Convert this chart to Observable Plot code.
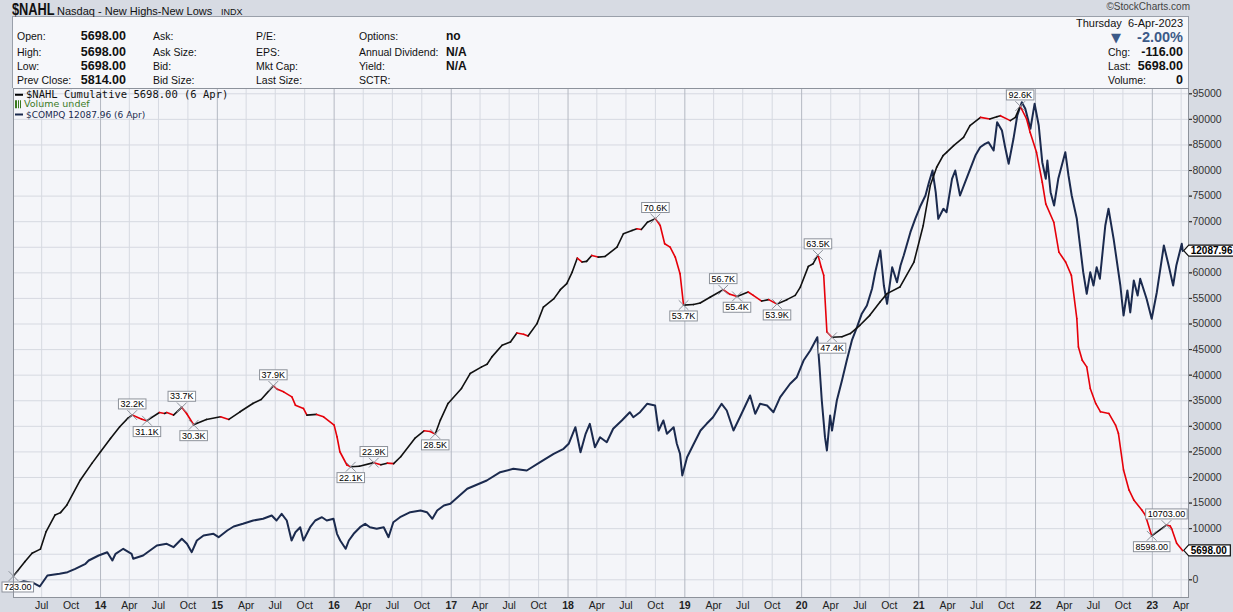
<!DOCTYPE html>
<html>
<head>
<meta charset="utf-8">
<script src="https://cdn.jsdelivr.net/npm/d3@7"></script>
<script src="https://cdn.jsdelivr.net/npm/@observablehq/plot@0.6"></script>
<style>
  html,body{margin:0;padding:0}
  body{width:1233px;height:612px;overflow:hidden;position:relative;background:#d7dbe3;font-family:"Liberation Sans",Arial,sans-serif;color:#111}
  .t{position:absolute;white-space:nowrap;line-height:1;transform:translateY(-50%)}
  .r{transform:translate(-100%,-50%)}
  .lbl{font-size:10.5px;color:#111}
  .val{font-size:12.5px;font-weight:bold;color:#111}
  #info{position:absolute;left:12px;top:16px;width:1177px;height:72px;background:#f6f7fa;border:1px solid #9aa0aa;border-bottom:none;box-sizing:border-box}
  #chart{position:absolute;left:0;top:87px}
  .leg{position:absolute;white-space:nowrap;line-height:1;transform:translateY(-50%)}
</style>
</head>
<body>
<div id="info"></div>
<div id="chart"></div>
<script>
// ---------------- data ----------------
const nahlDates = ["2013-04-04","2013-05-10","2013-06-01","2013-06-27","2013-07-15","2013-08-12","2013-08-29","2013-09-18","2013-10-30","2013-12-05",
"2014-01-01","2014-02-01","2014-03-02","2014-03-27","2014-04-10","2014-05-10","2014-05-26","2014-07-04","2014-07-20","2014-07-27","2014-08-17","2014-09-12","2014-09-27","2014-10-19","2014-10-30","2014-11-28",
"2015-01-11","2015-02-06","2015-03-13","2015-04-22","2015-05-18","2015-06-25","2015-07-06","2015-07-27","2015-08-22","2015-09-02","2015-09-27","2015-10-08","2015-11-07","2015-11-29",
"2016-01-01","2016-01-10","2016-01-19","2016-02-10","2016-02-22","2016-03-20","2016-05-04","2016-05-26","2016-06-15","2016-07-05","2016-07-27","2016-09-09","2016-10-08","2016-10-27","2016-11-12","2016-11-28","2016-12-22",
"2017-02-02","2017-03-01","2017-04-06","2017-04-23","2017-05-08","2017-06-09","2017-07-05","2017-07-25","2017-08-15","2017-08-29","2017-09-26","2017-10-16","2017-11-18","2017-12-08","2017-12-28",
"2018-01-14","2018-01-30","2018-02-14","2018-02-28","2018-03-16","2018-04-05","2018-04-27","2018-06-03","2018-06-23","2018-07-20","2018-08-04","2018-08-18","2018-09-06","2018-10-01","2018-10-16","2018-10-30","2018-11-16","2018-12-02","2018-12-17","2018-12-28",
"2019-01-28","2019-02-18","2019-03-22","2019-05-01","2019-05-22","2019-06-13","2019-07-18","2019-08-03","2019-08-29","2019-09-20","2019-10-16","2019-11-16","2019-12-12","2019-12-28",
"2020-01-22","2020-02-06","2020-02-21","2020-03-02","2020-03-10","2020-03-20","2020-04-05","2020-05-06","2020-06-01","2020-07-01","2020-08-01","2020-09-02","2020-09-24","2020-11-03","2020-12-17",
"2021-01-15","2021-02-06","2021-02-26","2021-03-18","2021-03-29","2021-04-20","2021-05-21","2021-06-10","2021-07-13","2021-08-11","2021-09-02","2021-09-13","2021-10-14","2021-10-30","2021-11-14","2021-12-04","2021-12-15",
"2022-01-04","2022-01-22","2022-02-02","2022-02-27","2022-03-15","2022-04-05","2022-04-23","2022-05-10","2022-05-15","2022-05-27","2022-06-10","2022-06-21","2022-07-08","2022-07-23","2022-08-18","2022-09-08","2022-09-17","2022-10-03","2022-10-20","2022-11-04","2022-11-29","2022-12-10","2022-12-30",
"2023-02-14","2023-02-26","2023-03-03","2023-03-18","2023-04-06"];
const nahlValues = [723,3570,5200,5990,9420,12680,13130,14630,19510,22760,
25030,27640,29910,31550,32200,31400,31100,32700,32500,32700,32200,33700,32500,30300,30600,31350,
31860,31350,32840,34470,35250,37900,37300,36740,35760,34140,33500,32190,32330,31860,
30240,27960,25030,22440,22100,22200,22900,22500,22800,22700,24060,27640,29130,29000,28500,31220,34470,
37400,40320,41620,42140,43570,45850,46490,48250,48000,47670,50080,53320,54960,56710,57890,
60150,62890,62110,62240,63410,63080,63210,65030,67640,68290,68620,68480,69900,70600,69260,65690,65030,63080,59840,53700,
53800,54100,55270,56700,55800,55400,56250,55600,54490,54760,53900,54760,55600,57220,
61260,61790,63500,61130,59510,48440,47400,47500,48130,49750,51700,54300,55940,57220,62110,
69260,77060,80640,82920,83560,84870,86490,88770,90390,90070,90530,90720,89750,90390,92600,90070,87460,
83560,77710,73490,69900,64050,62110,59510,51060,45520,42920,41620,37400,34470,32840,32520,30240,28620,21460,17560,15610,13660,12680,8598,
10703,10500,9890,7160,5698];

const compqDates = ["2013-04-06","2013-05-06","2013-06-06","2013-06-25","2013-07-19","2013-08-26","2013-09-20","2013-10-14","2013-11-15","2013-11-25","2013-12-26",
"2014-01-22","2014-02-07","2014-02-17","2014-03-13","2014-04-08","2014-04-13","2014-05-14","2014-06-26","2014-07-27","2014-08-17","2014-09-12","2014-09-28","2014-10-13","2014-10-29","2014-11-19","2014-12-20",
"2015-01-05","2015-02-01","2015-02-21","2015-03-22","2015-04-23","2015-05-24","2015-06-20","2015-07-05","2015-07-21","2015-08-06","2015-08-21","2015-09-02","2015-09-17","2015-09-27","2015-10-18","2015-11-03","2015-11-24","2015-12-09","2015-12-30",
"2016-01-10","2016-01-20","2016-02-06","2016-02-16","2016-03-02","2016-03-22","2016-04-07","2016-04-22","2016-05-13","2016-06-04","2016-06-19","2016-07-04","2016-07-25","2016-08-26","2016-09-27","2016-10-17","2016-11-03","2016-11-18","2016-12-09","2016-12-29",
"2017-02-20","2017-04-22","2017-06-03","2017-07-14","2017-08-25","2017-10-06","2017-11-17","2017-12-18",
"2018-01-03","2018-01-24","2018-02-09","2018-02-25","2018-03-10","2018-03-26","2018-04-11","2018-05-02","2018-05-22","2018-06-18","2018-07-13","2018-07-24","2018-08-14","2018-09-05","2018-09-30","2018-10-11","2018-10-26","2018-11-06","2018-11-27","2018-12-07","2018-12-17","2018-12-24",
"2019-01-08","2019-01-29","2019-02-19","2019-03-10","2019-03-30","2019-04-26","2019-05-12","2019-06-02","2019-06-22","2019-07-24","2019-08-09","2019-08-24","2019-09-15","2019-10-05","2019-10-26","2019-11-26","2019-12-17",
"2020-01-07","2020-01-28","2020-02-19","2020-02-26","2020-03-04","2020-03-14","2020-03-20","2020-03-30","2020-04-05","2020-04-20","2020-05-06","2020-05-21","2020-06-06","2020-06-22","2020-07-07","2020-07-23","2020-08-08","2020-08-18","2020-09-03","2020-09-14","2020-09-24","2020-10-10","2020-10-25","2020-11-05","2020-11-15","2020-12-06","2020-12-21",
"2021-01-07","2021-01-22","2021-02-02","2021-02-13","2021-02-23","2021-03-03","2021-03-19","2021-03-29","2021-04-15","2021-04-25","2021-05-10","2021-05-26","2021-06-11","2021-06-27","2021-07-12","2021-07-27","2021-08-07","2021-08-23","2021-09-03","2021-09-18","2021-09-28","2021-10-09","2021-10-24","2021-11-05","2021-11-19","2021-11-30","2021-12-16","2021-12-29",
"2022-01-11","2022-01-22","2022-02-02","2022-02-07","2022-02-17","2022-02-28","2022-03-13","2022-04-04","2022-04-14","2022-04-24","2022-05-10","2022-05-20","2022-05-30","2022-06-10","2022-06-21","2022-07-01","2022-07-11","2022-07-21","2022-08-07","2022-08-17","2022-09-02","2022-09-23","2022-10-03","2022-10-15","2022-10-24","2022-11-04","2022-11-16","2022-11-24","2022-12-14","2022-12-30",
"2023-01-15","2023-02-06","2023-02-21","2023-03-07","2023-03-17","2023-04-03","2023-04-06"];
const compqValues = [3310,3397,3344,3258,3547,3591,3634,3723,3855,3942,4073,
4160,3942,4118,4250,4118,3986,4073,4336,4381,4292,4513,4381,4160,4468,4600,4644,
4555,4731,4837,4907,4994,5039,5126,4994,5170,4994,4468,4686,4818,4468,4818,4994,5081,4994,5039,
4644,4468,4250,4468,4644,4818,4907,4818,4776,4818,4555,4950,5081,5213,5258,5213,5039,5258,5390,5434,
5829,6047,6266,6355,6310,6529,6750,6882,
7013,7450,6792,7276,7539,6924,7187,7055,7408,7627,7845,7713,7845,8066,8021,7363,7627,7277,7450,7013,6750,6179,
6660,7013,7363,7539,7713,8066,7889,7363,7713,8284,7802,8066,8020,7845,8240,8593,8766,
9205,9469,9819,9029,8153,7187,6837,7758,7363,8153,8680,9205,9734,10082,10437,10653,11092,11529,12100,11179,10697,11661,11266,11705,11969,12582,12934,
13285,13548,13898,14206,13635,12934,13198,13108,13987,14206,13548,13898,14250,14600,14819,14908,14950,14732,15477,15258,14819,14382,15040,15653,16003,15829,15303,15961,
15390,14424,13987,14469,13635,13285,13987,14687,14074,13548,12935,12233,11529,10961,11529,11179,11661,11355,12758,13198,12408,11179,10390,11048,10469,11311,10916,11355,10829,10303,
11003,12232,11706,11179,11706,12277,12087.96];

const labelDates = ["2013-04-04","2014-04-10","2014-05-26","2014-09-12","2014-10-19","2015-06-25","2016-02-22","2016-05-04","2016-11-12","2018-10-01","2018-12-28","2019-05-01","2019-06-13","2019-10-16","2020-02-21","2020-04-05","2021-11-14","2022-12-30","2023-02-14"];
const labelSides = ["below","above","below","above","below","above","below","above","below","above","below","above","below","below","above","below","above","below","above"];

const yTicks = d3.range(0, 95001, 5000);
const xDomain = ["2013-04-04", "2023-04-24"];
const yDomain = [-3460, 96035];
// overlay scale for $COMPQ (index points -> NAHL axis units)
const compqDomain = [3000, 17000];
const compqRange = [-3222, 100760];

// ---------------- header ----------------
function put(text, x, y, cls, style) {
  const d = document.createElement("div");
  d.className = "t " + (cls || "");
  d.style.cssText = `left:${x}px;top:${y}px;` + (style || "");
  d.textContent = text;
  document.body.appendChild(d);
  return d;
}
put("$NAHL", 12, 10, "", "font-size:16px;font-weight:bold;transform:translateY(-50%) scaleX(0.8);transform-origin:left center;color:#111");
put("Nasdaq - New Highs-New Lows", 57, 11, "", "font-size:11px;color:#111");
put("INDX", 221, 11.5, "", "font-size:9px;color:#111");
put("©StockCharts.com", 1190, 7, "r", "font-size:10px;color:#444");

const rows = [36, 51.5, 65.5, 80];
[["Open:","5698.00"],["High:","5698.00"],["Low:","5698.00"],["Prev Close:","5814.00"]].forEach(([a,b],i)=>{
  put(a, 17, rows[i], "lbl"); put(b, 126, rows[i], "val r");
});
["Ask:","Ask Size:","Bid:","Bid Size:"].forEach((a,i)=>put(a, 153, rows[i], "lbl"));
["P/E:","EPS:","Mkt Cap:","Last Size:"].forEach((a,i)=>put(a, 256, rows[i], "lbl"));
["Options:","Annual Dividend:","Yield:","SCTR:"].forEach((a,i)=>put(a, 359, rows[i], "lbl"));
["no","N/A","N/A",""].forEach((a,i)=>put(a, 446, rows[i], "val", "font-size:12px"));

put("Thursday\u00a0\u00a06-Apr-2023", 1183, 22.5, "lbl r", "font-size:11px");
put("\u25BC", 1111, 37, "", "font-size:13px;color:#3c5a88;font-family:'DejaVu Sans'");
put("-2.00%", 1183, 36.5, "r", "font-size:14.5px;font-weight:bold;color:#3c5a88");
[["Chg:","-116.00"],["Last:","5698.00"],["Volume:","0"]].forEach(([a,b],i)=>{
  put(a, 1108, rows[i+1], "lbl"); put(b, 1183, rows[i+1], "val r");
});

// legend inside plot
function leg(html, x, y, style) {
  const d = document.createElement("div");
  d.className = "leg";
  d.style.cssText = `left:${x}px;top:${y}px;` + style;
  d.innerHTML = html;
  document.body.appendChild(d);
}
leg('<span style="display:inline-block;width:8px;height:2.5px;background:#000;vertical-align:middle;margin-right:3px"></span>$NAHL Cumulative 5698.00 (6 Apr)', 15, 94, "font-family:'DejaVu Sans Mono',monospace;font-size:10.5px;color:#111");
leg('<span style="display:inline-block;width:7px;height:8px;margin-right:2px;vertical-align:-1px;background:linear-gradient(to right,#3a7a1e 0 1.5px,transparent 1.5px 2.5px,#3a7a1e 2.5px 4px,transparent 4px 5px,#3a7a1e 5px 6.5px,transparent 6.5px)"></span>Volume undef', 15, 104, "font-family:'DejaVu Sans',sans-serif;font-size:9.5px;color:#3a7a1e");
leg('<span style="display:inline-block;width:8px;height:2.5px;background:#1b2a4e;vertical-align:middle;margin-right:3px"></span>$COMPQ 12087.96 (6 Apr)', 15, 114.5, "font-family:'DejaVu Sans',sans-serif;font-size:9px;color:#1b2a4e");

// ---------------- chart ----------------
const parse = d3.utcParse("%Y-%m-%d");
const nahl = nahlDates.map((d, i) => ({date: parse(d), value: nahlValues[i]}));
const segs = d3.pairs(nahl).map(([a, b]) => ({x1: a.date, y1: a.value, x2: b.date, y2: b.value, color: b.value >= a.value ? "#111111" : "#e6000a"}));
const compqToAxis = d3.scaleLinear().domain(compqDomain).range(compqRange);
const compq = compqDates.map((d, i) => ({date: parse(d), y: compqToAxis(compqValues[i])}));
const byDate = new Map(nahlDates.map((d, i) => [d, nahlValues[i]]));
const fmtLabel = v => v >= 20000 ? (v / 1000).toFixed(1) + "K" : v.toFixed(2);
const labels = labelDates.map((d, i) => ({date: parse(d), value: byDate.get(d), side: labelSides[i], text: fmtLabel(byDate.get(d))}));
const quarters = d3.utcMonth.every(3).range(parse("2013-07-01"), parse("2023-04-02"));
const monthTicks = quarters.filter(d => d.getUTCMonth() !== 0);
const yearTicks = quarters.filter(d => d.getUTCMonth() === 0);
const lastN = nahl[nahl.length - 1];
const lastC = compq[compq.length - 1];
const tags = [
  {date: lastC.date, y: lastC.y, text: compqValues[compqValues.length - 1].toFixed(2)},
  {date: lastN.date, y: lastN.value, text: lastN.value.toFixed(2)}
];
// axis labels hidden behind the last-value tags
const axisLabelTicks = yTicks.filter(v => tags.every(t => Math.abs(t.y - v) > 3000));

const chart = Plot.plot({
  width: 1233, height: 525,
  marginLeft: 13, marginRight: 45, marginTop: 1, marginBottom: 15,
  x: {type: "utc", domain: xDomain.map(parse)},
  y: {domain: yDomain},
  style: {background: "transparent", fontFamily: "'Liberation Sans', Arial, sans-serif", fontSize: "10.5px", color: "#222", overflow: "visible"},
  marks: [
    Plot.frame({fill: "#f4f5f9", stroke: null}),
    Plot.ruleY(yTicks, {stroke: "#d6d9e1"}),
    Plot.ruleX(monthTicks, {stroke: "#d6d9e1"}),
    Plot.ruleX(yearTicks, {stroke: "#b4b8c2"}),
    Plot.line(compq, {x: "date", y: "y", stroke: "#1b2a4e", strokeWidth: 2}),
    Plot.link(segs, {x1: "x1", y1: "y1", x2: "x2", y2: "y2", stroke: "color", strokeWidth: 1.6, strokeLinecap: "round"}),
    Plot.dot(labels, {x: "date", y: "value", symbol: "times", r: 4.5, stroke: "#8d929b", strokeWidth: 1}),
    Plot.text(labels.filter(d => d.side === "above"), {x: "date", y: "value", text: "text", dy: -11, fontSize: 9, fill: "#000", ariaDescription: "boxlabel"}),
    Plot.text(labels.filter(d => d.side === "below"), {x: "date", y: "value", text: "text", dy: 11, fontSize: 9, fill: "#000", ariaDescription: "boxlabel"}),
    Plot.axisY({anchor: "right", ticks: yTicks, tickSize: 3, tickFormat: () => "", label: null, color: "#555"}),
    Plot.axisY({anchor: "right", ticks: axisLabelTicks, tickSize: 3, tickPadding: 1, tickFormat: d => String(d), fontSize: 10.5, label: null, color: "#333"}),
    Plot.axisX({ticks: monthTicks, tickSize: 0, tickPadding: 4, tickFormat: d3.utcFormat("%b"), fontSize: 10.5, label: null, color: "#222"}),
    Plot.axisX({ticks: yearTicks, tickSize: 0, tickPadding: 4, tickFormat: d3.utcFormat("%y"), fontSize: 10.5, fontWeight: "bold", label: null, color: "#222"}),
    Plot.frame({stroke: "#8d929b"}),
    Plot.text(tags, {x: "date", y: "y", text: "text", dx: 8, textAnchor: "start", fontWeight: "bold", fontSize: 10, fill: "#000", ariaDescription: "tag"})
  ]
});
document.getElementById("chart").appendChild(chart);

// boxes behind label texts
const ns = "http://www.w3.org/2000/svg";
function addBoxes(svg, desc, draw) {
  const base = svg.getBoundingClientRect();
  svg.querySelectorAll(`g[aria-description="${desc}"]`).forEach(g => {
    const layer = document.createElementNS(ns, "g");
    g.parentNode.insertBefore(layer, g);
    g.querySelectorAll("text").forEach(t => {
      let r = t.getBoundingClientRect();
      const left = r.left - base.left;
      if (left < 4) {
        t.setAttribute("transform", `translate(${4 - left},0) ` + (t.getAttribute("transform") || ""));
        r = t.getBoundingClientRect();
      }
      draw(layer, r.left - base.left, r.top - base.top, r.width, r.height, t);
    });
  });
}
addBoxes(chart, "boxlabel", (layer, x, y, w, h) => {
  const rc = document.createElementNS(ns, "rect");
  rc.setAttribute("x", x - 2); rc.setAttribute("y", y);
  rc.setAttribute("width", w + 4); rc.setAttribute("height", h);
  rc.setAttribute("fill", "#ffffff"); rc.setAttribute("stroke", "#8d929b"); rc.setAttribute("stroke-width", 1);
  layer.appendChild(rc);
});
addBoxes(chart, "tag", (layer, x, y, w, h, t) => {
  const l = x - 2, rr = x + w + 3, tp = y, bt = y + h, m = (tp + bt) / 2;
  const p = document.createElementNS(ns, "path");
  p.setAttribute("d", `M${l - 5},${m}L${l},${tp}L${rr},${tp}L${rr},${bt}L${l},${bt}Z`);
  p.setAttribute("fill", "#ffffff"); p.setAttribute("stroke", "#111"); p.setAttribute("stroke-width", 1.2);
  layer.appendChild(p);
});
</script>
</body>
</html>
